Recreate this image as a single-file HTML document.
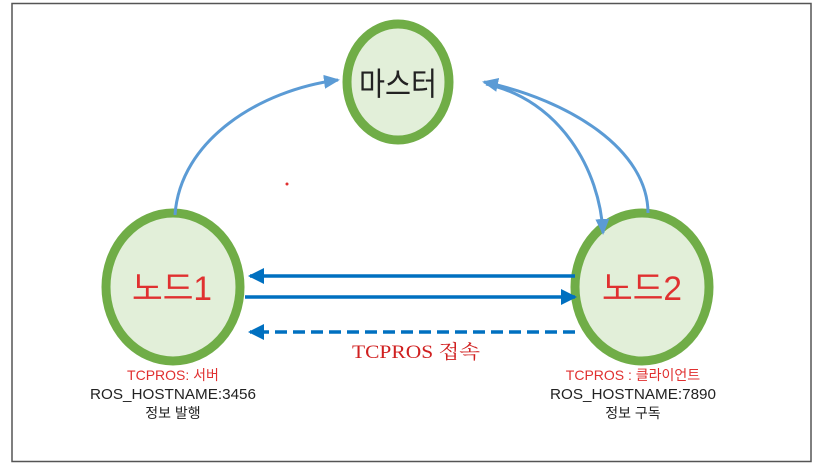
<!DOCTYPE html>
<html><head><meta charset="utf-8"><style>
body{margin:0;background:#fff;}
svg{display:block}
</style></head><body>
<svg width="816" height="470" viewBox="0 0 816 470" xmlns="http://www.w3.org/2000/svg">
<defs>
<marker id="a" markerWidth="16" markerHeight="16" refX="14" refY="8" orient="auto" markerUnits="userSpaceOnUse"><path d="M0,1 L16,8 L0,15 z" fill="#5b9bd5"/></marker>
<marker id="b" markerWidth="16" markerHeight="16" refX="14" refY="8" orient="auto" markerUnits="userSpaceOnUse"><path d="M0,0 L16,8 L0,16 z" fill="#0070c0"/></marker>
</defs>
<rect x="12" y="3.5" width="799" height="458" fill="#fff" stroke="#555" stroke-width="1.5"/>
<g fill="#e2efd9" stroke="#70ad47" stroke-width="9">
<ellipse cx="398" cy="82" rx="51" ry="58"/>
<ellipse cx="173" cy="287" rx="67" ry="74"/>
<ellipse cx="642" cy="287" rx="67" ry="74"/>
</g>
<g fill="none" stroke="#5b9bd5" stroke-width="3">
<path d="M175,215 C180,140 260,90 338,80" marker-end="url(#a)"/>
<path d="M486,84 C560,100 600,170 603,233" marker-end="url(#a)"/>
<path d="M648,213 C648,150 570,100 484,82" marker-end="url(#a)"/>
</g>
<g stroke="#0070c0" stroke-width="3.5" fill="none">
<line x1="575" y1="276" x2="250" y2="276" marker-end="url(#b)"/>
<line x1="245" y1="297" x2="575" y2="297" marker-end="url(#b)"/>
<line x1="575" y1="332" x2="250" y2="332" stroke-dasharray="12,6" marker-end="url(#b)"/>
</g>
<g font-family="'Liberation Sans','Noto Sans CJK KR',sans-serif" text-anchor="middle">
<text x="398" y="95" font-size="32" fill="#222" textLength="78" lengthAdjust="spacingAndGlyphs">마스터</text>
<text x="172" y="300" font-size="34" fill="#e03030" textLength="80" lengthAdjust="spacingAndGlyphs">노드1</text>
<text x="642" y="300" font-size="34" fill="#e03030" textLength="80" lengthAdjust="spacingAndGlyphs">노드2</text>
<text x="173" y="380" font-size="14" fill="#e03030">TCPROS: 서버</text>
<text x="173" y="399" font-size="15" fill="#222" textLength="166" lengthAdjust="spacingAndGlyphs">ROS_HOSTNAME:3456</text>
<text x="173" y="418" font-size="14" fill="#222">정보 발행</text>
<text x="633" y="380" font-size="14" fill="#e03030">TCPROS : 클라이언트</text>
<text x="633" y="399" font-size="15" fill="#222" textLength="166" lengthAdjust="spacingAndGlyphs">ROS_HOSTNAME:7890</text>
<text x="633" y="418" font-size="14" fill="#222">정보 구독</text>
</g>
<text x="416" y="358" text-anchor="middle" font-family="'Liberation Serif','Noto Serif CJK SC',serif" font-size="19" fill="#d02020" textLength="128" lengthAdjust="spacingAndGlyphs">TCPROS 접속</text>
<circle cx="287" cy="184" r="1.5" fill="#e03030"/>
</svg>
</body></html>
